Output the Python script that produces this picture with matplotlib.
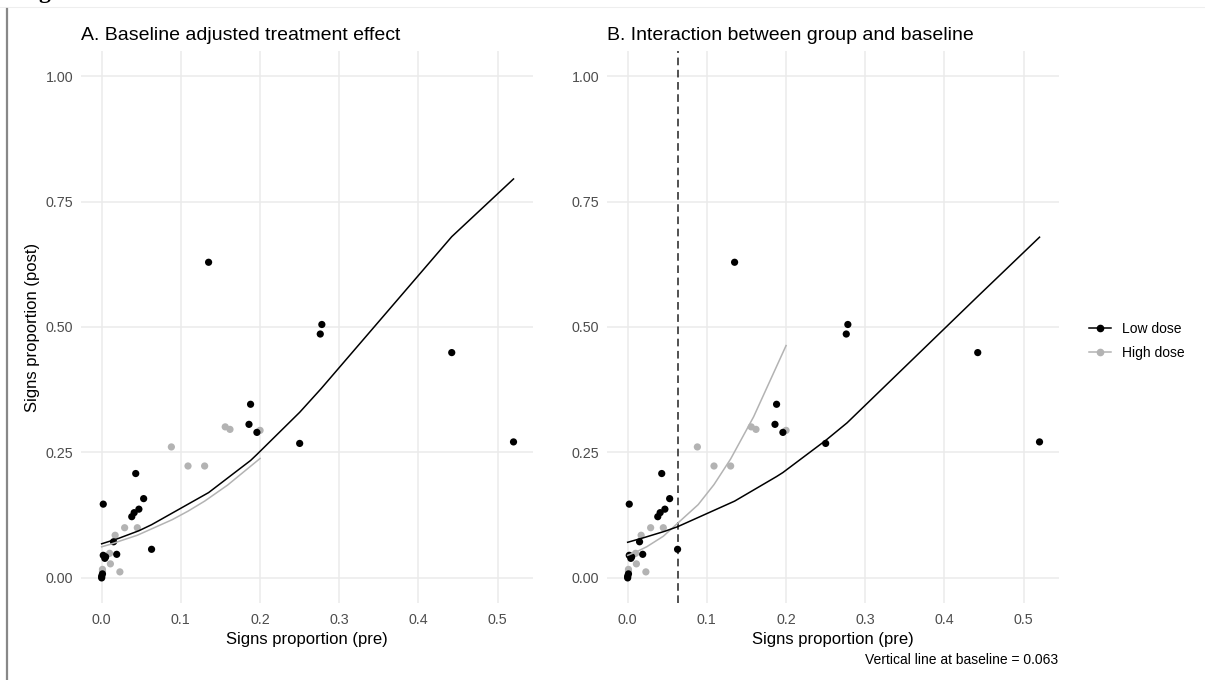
import numpy as np
import matplotlib
matplotlib.use("Agg")
import matplotlib.pyplot as plt
from matplotlib.lines import Line2D

plt.rcParams['font.family'] = ['Liberation Sans', 'DejaVu Sans']

# ---- data ----
low_pre = [0.000, 0.000, 0.001, 0.002, 0.002, 0.004, 0.005, 0.015, 0.019,
           0.038, 0.041, 0.043, 0.047, 0.053, 0.063, 0.135, 0.186, 0.188,
           0.196, 0.250, 0.276, 0.278, 0.442, 0.520]
low_post = [0.000, 0.003, 0.008, 0.147, 0.045, 0.039, 0.042, 0.072, 0.047,
            0.122, 0.130, 0.208, 0.137, 0.158, 0.057, 0.629, 0.306, 0.346,
            0.290, 0.268, 0.486, 0.505, 0.449, 0.271]

high_pre = [0.000, 0.001, 0.001, 0.010, 0.011, 0.017, 0.023, 0.029, 0.045,
            0.088, 0.109, 0.130, 0.156, 0.162, 0.200]
high_post = [0.004, 0.013, 0.017, 0.049, 0.028, 0.085, 0.012, 0.100, 0.100,
             0.261, 0.223, 0.223, 0.301, 0.296, 0.294]

# fitted lines (A: baseline adjusted)
fitA_low_x = [0.0, 0.02, 0.047, 0.063, 0.135, 0.188, 0.196, 0.250, 0.277, 0.442, 0.520]
fitA_low_y = [0.068, 0.078, 0.094, 0.106, 0.170, 0.234, 0.246, 0.330, 0.377, 0.680, 0.795]
fitA_high_x = [0.0, 0.011, 0.024, 0.045, 0.089, 0.109, 0.130, 0.159, 0.200]
fitA_high_y = [0.062, 0.067, 0.074, 0.085, 0.116, 0.133, 0.153, 0.185, 0.238]

# fitted lines (B: interaction)
fitB_low_x = fitA_low_x
fitB_low_y = [0.071, 0.080, 0.093, 0.102, 0.153, 0.202, 0.210, 0.274, 0.309, 0.561, 0.679]
fitB_high_x = fitA_high_x
fitB_high_y = [0.045, 0.052, 0.062, 0.083, 0.146, 0.186, 0.237, 0.321, 0.463]

baseline = 0.063

LOW_COL = '#000000'
HIGH_COL = '#B3B3B3'
GRID_COL = '#EBEBEB'
TICK_COL = '#4D4D4D'

W, H = 1205, 680
fig = plt.figure(figsize=(W / 100, H / 100), dpi=100)


def px_axes(x0, y0, x1, y1):
    return fig.add_axes([x0 / W, 1 - y1 / H, (x1 - x0) / W, (y1 - y0) / H])


def style(ax, ylabel=None):
    ax.set_xlim(-0.0261, 0.5446)
    ax.set_ylim(-0.05, 1.05)
    ax.set_xticks([0.0, 0.1, 0.2, 0.3, 0.4, 0.5])
    ax.set_xticklabels(['0.0', '0.1', '0.2', '0.3', '0.4', '0.5'])
    ax.set_yticks([0.0, 0.25, 0.5, 0.75, 1.0])
    ax.set_yticklabels(['0.00', '0.25', '0.50', '0.75', '1.00'])
    ax.grid(True, color=GRID_COL, linewidth=1.1)
    ax.set_axisbelow(True)
    for s in ax.spines.values():
        s.set_visible(False)
    ax.tick_params(length=0, labelsize=10.3, labelcolor=TICK_COL)
    ax.tick_params(axis='x', pad=7.5)
    ax.tick_params(axis='y', pad=5.5)
    ax.set_xlabel('Signs proportion (pre)', fontsize=12, labelpad=3)
    if ylabel:
        ax.set_ylabel(ylabel, fontsize=12, labelpad=4)


axA = px_axes(81, 51, 533, 603)
axB = px_axes(607, 51, 1059, 603)

for ax in (axA, axB):
    ax.scatter(high_pre, high_post, s=27, color=HIGH_COL, edgecolors='none', zorder=3)
    ax.scatter(low_pre, low_post, s=27, color=LOW_COL, edgecolors='none', zorder=3)

axA.plot(fitA_high_x, fitA_high_y, color=HIGH_COL, lw=1.1, zorder=4)
axA.plot(fitA_low_x, fitA_low_y, color=LOW_COL, lw=1.1, zorder=4)
axB.plot(fitB_high_x, fitB_high_y, color=HIGH_COL, lw=1.1, zorder=4)
axB.plot(fitB_low_x, fitB_low_y, color=LOW_COL, lw=1.1, zorder=4)
axB.axvline(baseline, color='#222222', lw=1.1, linestyle=(0, (5, 3)), zorder=2)

style(axA, 'Signs proportion (post)')
style(axB)

axA.set_title('A. Baseline adjusted treatment effect', loc='left', fontsize=14, pad=8)
axB.set_title('B. Interaction between group and baseline', loc='left', fontsize=14, pad=8)

handles = [Line2D([0], [0], color=LOW_COL, lw=1.1, marker='o', markersize=4.5),
           Line2D([0], [0], color=HIGH_COL, lw=1.1, marker='o', markersize=4.5)]
fig.legend(handles, ['Low dose', 'High dose'], loc='center left',
           bbox_to_anchor=(1076 / W, 1 - 341 / H), frameon=False,
           fontsize=10, handlelength=1.6, labelspacing=0.75, handletextpad=0.8)

fig.text(1058 / W, 1 - 660 / H, 'Vertical line at baseline = 0.063',
         ha='right', va='center', fontsize=10)

# page decorations: cut-off heading, frame lines
fig.text(44 / W, 1 + 2 / H, 'g', fontsize=17, fontweight='bold',
         family='Liberation Serif', ha='center', va='baseline')
fig.add_artist(Line2D([0, 1], [1 - 7 / H, 1 - 7 / H], color='#EEEEEE', lw=0.8,
                      transform=fig.transFigure))
fig.add_artist(Line2D([7.5 / W, 7.5 / W], [0, 1 - 9 / H], color='#888888', lw=1.6,
                      transform=fig.transFigure))

fig.savefig('out.png', dpi=100)
